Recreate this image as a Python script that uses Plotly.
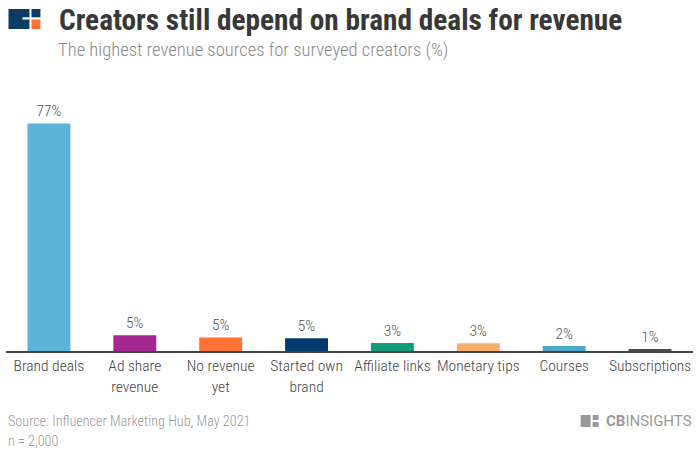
import plotly.graph_objects as go

# revenue sources and share of creators (%)
categories = ["Brand deals", "Ad share<br>revenue", "No revenue<br>yet", "Started own<br>brand",
              "Affiliate links", "Monetary tips", "Courses", "Subscriptions"]
values = [77, 5.3, 4.6, 4.3, 2.7, 2.6, 1.7, 0.6]
value_labels = ["77%", "5%", "5%", "5%", "3%", "3%", "2%", "1%"]
bar_colors = ["#5ab5d8", "#a4278f", "#ff7236", "#023a6e", "#129c7a", "#f7b06c", "#4ea7cc", "#4a4a4a"]

FONT = "Roboto Condensed"
W, H = 700, 451
L, R, T, B = 5.5, 6.5, 95, 100

fig = go.Figure(go.Bar(
    x=categories, y=values,
    marker=dict(color=bar_colors, line=dict(width=0)),
    text=value_labels, textposition="outside",
    textfont=dict(family=FONT, size=15.5, color="#555555", weight=300),
    cliponaxis=False, width=0.5,
))

fig.update_layout(
    width=W, height=H,
    margin=dict(l=L, r=R, t=T, b=B),
    plot_bgcolor="white", paper_bgcolor="white",
    showlegend=False,
    xaxis=dict(range=[-0.5, 7.5], showline=True, linecolor="#444444", linewidth=1.5,
               ticks="", tickfont=dict(family=FONT, size=15.5, color="#444444", weight=300),
               fixedrange=True),
    yaxis=dict(range=[0, 86.6], visible=False, fixedrange=True),
)


def px_x(p):
    return (p - L) / (W - L - R)


def px_y(p):
    return (H - B - p) / (H - T - B)


def note(text, x, y, xanchor, size, color, family=FONT, weight="normal"):
    fig.add_annotation(text=text, showarrow=False, xref="paper", yref="paper",
                       x=px_x(x), y=px_y(y), xanchor=xanchor, yanchor="middle",
                       font=dict(family=family, size=size, color=color, weight=weight))


# header
note("<b>Creators still depend on brand deals for revenue</b>", 57, 20, "left", 29.3, "#383838")
note("The highest revenue sources for surveyed creators (%)", 56, 50, "left", 18.6, "#8a8a8a", weight=300)

# footer
note("Source: Influencer Marketing Hub, May 2021", 6, 421, "left", 14.2, "#9a9a9a", weight=300)
note("n = 2,000", 6, 441, "left", 14.2, "#9a9a9a", weight=300)
note("<b>CB</b>INSIGHTS", 695, 421, "right", 15, "#9a9a9a", family="Roboto")

# logos (top-left and bottom-right)
logo = [(8, 9, 29, 29, "#0e3a66"), (31, 9, 40, 17.3, "#0e3a66"), (31, 19.5, 40, 29, "#ff7236"),
        (22, 17.3, 29, 19.5, "white"),
        (581, 415, 591, 427, "#9a9a9a"), (593, 415, 599, 420, "#9a9a9a"), (593, 422, 599, 427, "#9a9a9a")]
for x0, y0, x1, y1, c in logo:
    fig.add_shape(type="rect", xref="paper", yref="paper",
                  x0=px_x(x0), x1=px_x(x1), y0=px_y(y0), y1=px_y(y1),
                  fillcolor=c, line=dict(width=0))

fig.write_html("out.html", config={"displayModeBar": False},
               post_script="document.body.style.margin='0';")
